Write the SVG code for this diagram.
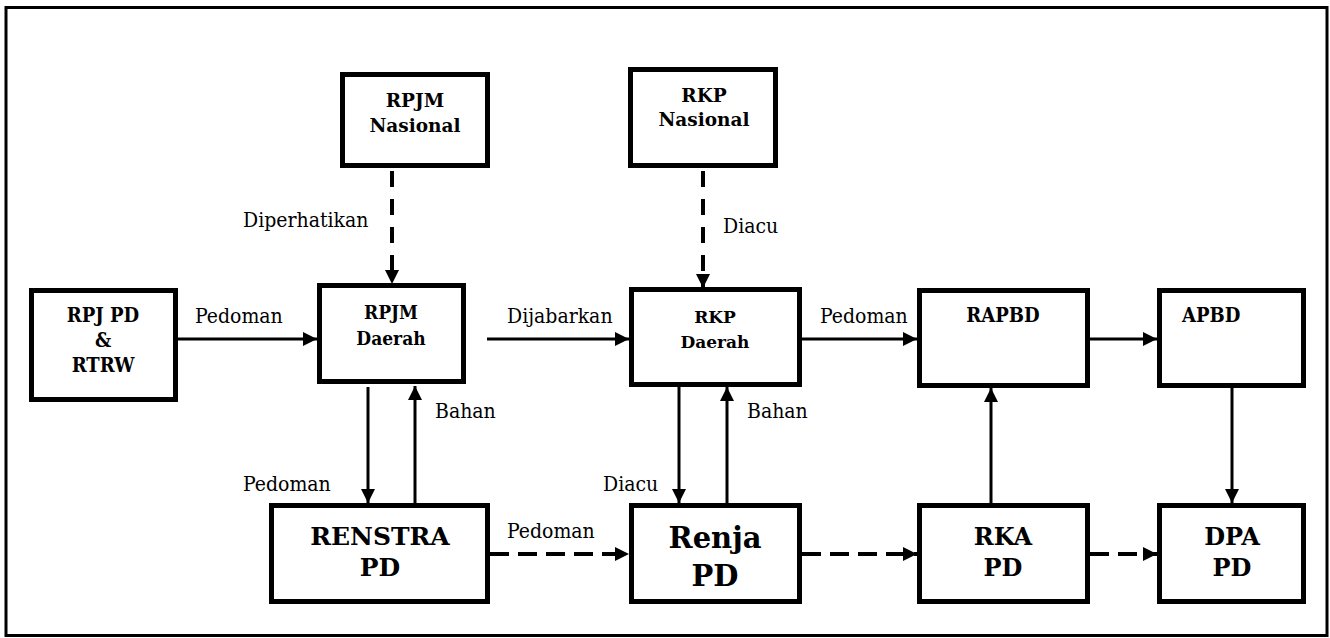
<svg xmlns="http://www.w3.org/2000/svg" width="1330" height="638" viewBox="0 0 1330 638">
<style>
.box{fill:#fff;stroke:#000;stroke-width:5}
.tb{font-family:'DejaVu Serif Condensed','DejaVu Serif',serif;font-stretch:condensed;font-weight:bold;fill:#000}
.bk{font-family:'DejaVu Serif',serif;font-weight:bold;fill:#000}
.lbl{font-family:'DejaVu Serif Condensed','DejaVu Serif',serif;font-stretch:condensed;font-size:21px;fill:#000}
.ln{stroke:#000;stroke-width:3;fill:none}
.dv{stroke:#000;stroke-width:4;fill:none;stroke-dasharray:16 12}
.dh{stroke:#000;stroke-width:4;fill:none;stroke-dasharray:19 9}
</style>
<defs>
<marker id="ah" markerUnits="userSpaceOnUse" markerWidth="15" markerHeight="15" refX="14" refY="7" orient="auto">
<path d="M0,0 L14,7 L0,14 z" fill="#000"/>
</marker>
</defs>
<rect x="0" y="0" width="1330" height="638" fill="#fff"/>
<rect x="6" y="7.5" width="1321" height="628" fill="none" stroke="#000" stroke-width="3"/>

<g id="connectors">
<line class="dv" x1="392" y1="171" x2="392" y2="284" marker-end="url(#ah)"/>
<line class="dv" x1="703" y1="171" x2="703" y2="288" marker-end="url(#ah)"/>
<line class="ln" x1="178" y1="339" x2="317" y2="339" marker-end="url(#ah)"/>
<line class="ln" x1="487" y1="339" x2="629" y2="339" marker-end="url(#ah)"/>
<line class="ln" x1="802" y1="339" x2="917" y2="339" marker-end="url(#ah)"/>
<line class="ln" x1="1090" y1="339" x2="1157" y2="339" marker-end="url(#ah)"/>
<line class="ln" x1="368" y1="387" x2="368" y2="503" marker-end="url(#ah)"/>
<line class="ln" x1="415" y1="503" x2="415" y2="386" marker-end="url(#ah)"/>
<line class="ln" x1="679" y1="387" x2="679" y2="503" marker-end="url(#ah)"/>
<line class="ln" x1="727" y1="503" x2="727" y2="387" marker-end="url(#ah)"/>
<line class="ln" x1="991" y1="503" x2="991" y2="388" marker-end="url(#ah)"/>
<line class="ln" x1="1232" y1="388" x2="1232" y2="503" marker-end="url(#ah)"/>
<line class="dh" x1="490" y1="554" x2="629" y2="554" marker-end="url(#ah)"/>
<line class="dh" x1="802" y1="554" x2="917" y2="554" marker-end="url(#ah)"/>
<line class="dh" x1="1090" y1="554" x2="1157" y2="554" marker-end="url(#ah)"/>
<text class="lbl" x="243" y="227">Diperhatikan</text>
<text class="lbl" x="723" y="233">Diacu</text>
<text class="lbl" x="195" y="323">Pedoman</text>
<text class="lbl" x="507" y="323">Dijabarkan</text>
<text class="lbl" x="820" y="323">Pedoman</text>
<text class="lbl" x="435" y="418">Bahan</text>
<text class="lbl" x="747" y="418">Bahan</text>
<text class="lbl" x="243" y="491">Pedoman</text>
<text class="lbl" x="603" y="491">Diacu</text>
<text class="lbl" x="507" y="538">Pedoman</text>
</g>

<g id="rpjm-nasional" text-anchor="middle">
<rect class="box" x="342.5" y="74.5" width="145" height="91"/>
<text class="bk" x="415" y="107" font-size="18.5">RPJM</text>
<text class="bk" x="415" y="132" font-size="18.5">Nasional</text>
</g>
<g id="rkp-nasional" text-anchor="middle">
<rect class="box" x="630.5" y="69.5" width="145" height="96"/>
<text class="bk" x="704" y="102" font-size="18.5">RKP</text>
<text class="bk" x="704" y="126" font-size="18.5">Nasional</text>
</g>
<g id="rpj-pd" text-anchor="middle">
<rect class="box" x="31.5" y="290.5" width="144" height="109"/>
<text class="tb" x="103" y="322" font-size="20">RPJ PD</text>
<text class="tb" x="103" y="347" font-size="20">&amp;</text>
<text class="tb" x="103" y="372" font-size="20">RTRW</text>
</g>
<g id="rpjm-daerah" text-anchor="middle">
<rect class="box" x="319.5" y="285.5" width="144" height="96"/>
<text class="tb" x="391" y="319" font-size="19">RPJM</text>
<text class="tb" x="391" y="345" font-size="19">Daerah</text>
</g>
<g id="rkp-daerah" text-anchor="middle">
<rect class="box" x="631.5" y="289.5" width="168" height="95"/>
<text class="bk" x="715" y="323" font-size="17">RKP</text>
<text class="bk" x="715" y="348" font-size="17">Daerah</text>
</g>
<g id="rapbd" text-anchor="middle">
<rect class="box" x="919.5" y="290.5" width="168" height="95"/>
<text class="tb" x="1003" y="322" font-size="20">RAPBD</text>
</g>
<g id="apbd">
<rect class="box" x="1159.5" y="290.5" width="144" height="95"/>
<text class="tb" x="1182" y="322" font-size="20">APBD</text>
</g>
<g id="renstra-pd" text-anchor="middle">
<rect class="box" x="271.5" y="505.5" width="216" height="96"/>
<text class="bk" x="380" y="545" font-size="25">RENSTRA</text>
<text class="bk" x="380" y="576" font-size="25">PD</text>
</g>
<g id="renja-pd" text-anchor="middle">
<rect class="box" x="631.5" y="505.5" width="168" height="96"/>
<text class="bk" x="715" y="548" font-size="29">Renja</text>
<text class="bk" x="715" y="586" font-size="29">PD</text>
</g>
<g id="rka-pd" text-anchor="middle">
<rect class="box" x="919.5" y="505.5" width="168" height="96"/>
<text class="bk" x="1003" y="545" font-size="24">RKA</text>
<text class="bk" x="1003" y="576" font-size="24">PD</text>
</g>
<g id="dpa-pd" text-anchor="middle">
<rect class="box" x="1159.5" y="505.5" width="144" height="96"/>
<text class="bk" x="1232" y="545" font-size="24">DPA</text>
<text class="bk" x="1232" y="576" font-size="24">PD</text>
</g>
</svg>
